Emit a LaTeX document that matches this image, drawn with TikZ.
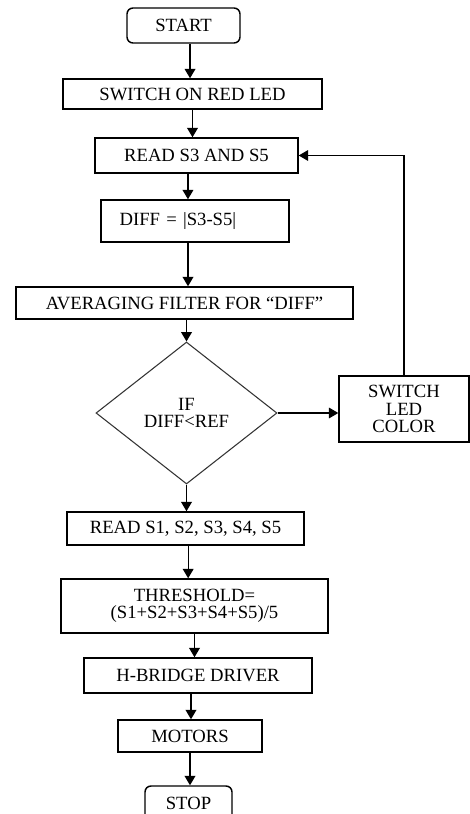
\documentclass[tikz,border=0pt]{standalone}
\usepackage{fontspec}
\setmainfont{Liberation Serif}
\usetikzlibrary{arrows.meta,shapes.geometric}

\tikzset{
  box/.style={draw, line width=1.1pt, minimum height=24pt, inner sep=2pt, align=center},
  term/.style={box, rounded corners=4.5pt},
  decision/.style={diamond, draw=black!80, line width=0.8pt, inner sep=0pt, align=center},
  arr/.style={line width=1pt, -{Triangle[length=7pt,width=8pt]}}
}

\begin{document}
\begin{tikzpicture}[x=0.75pt,y=-0.75pt,font=\fontsize{14}{13}\selectfont]
\useasboundingbox (0,0) rectangle (470,814);

\node[term] (start) at (183.5,25.5) [minimum width=84.75pt, minimum height=26.25pt] {START};
\node[box] (redled) at (192.5,94) [minimum width=194.25pt, minimum height=22.5pt] {SWITCH ON RED LED};
\node[box] (reads35) at (196.5,155.5) [minimum width=152.25pt, minimum height=26.25pt] {READ S3 AND S5};
\node[box, text width=113pt, inner xsep=14pt, align=left] (diff) at (195,221) [minimum height=31.5pt] {DIFF = |S3-S5|};
\node[box] (avg) at (184.5,303) [minimum width=252.75pt, minimum height=24pt] {AVERAGING FILTER FOR ``DIFF''};
\node[decision] (ifdiff) at (186.5,413) [minimum width=135.75pt, minimum height=106.5pt] {IF\\DIFF<REF};
\node[box] (switchled) at (404,409) [minimum width=97.5pt, minimum height=49.5pt] {SWITCH\\LED\\COLOR};
\node[box] (reads1) at (185.5,528.5) [minimum width=177.75pt, minimum height=24.75pt] {READ S1, S2, S3, S4, S5};
\node[box] (thresh) at (194.5,606) [minimum width=200.25pt, minimum height=40.5pt] {THRESHOLD=\\(S1+S2+S3+S4+S5)/5};
\node[box] (hbridge) at (198,675.5) [minimum width=171pt, minimum height=26.25pt] {H-BRIDGE DRIVER};
\node[box] (motors) at (190,736) [minimum width=108pt, minimum height=24pt] {MOTORS};
\node[term] (stop) at (188.5,803) [minimum width=65.25pt, minimum height=25.5pt] {STOP};

\draw[arr] ([xshift=4.9pt]start.south) -- ([xshift=4.9pt]start.south |- redled.north);
\draw[arr] (redled.south) -- (redled.south |- reads35.north);
\draw[arr] ([xshift=-6.4pt]reads35.south) -- ([xshift=-6.4pt]reads35.south |- diff.north);
\draw[arr] ([xshift=-5.25pt]diff.south) -- ([xshift=-5.25pt]diff.south |- avg.north);
\draw[arr] (avg.south -| ifdiff.north) -- (ifdiff.north);
\draw[arr] (ifdiff.south) -- (ifdiff.south |- reads1.north);
\draw[arr] ([xshift=2pt]reads1.south) -- ([xshift=2pt]reads1.south |- thresh.north);
\draw[arr] (thresh.south) -- (thresh.south |- hbridge.north);
\draw[arr] ([xshift=-5.25pt]hbridge.south) -- ([xshift=-5.25pt]hbridge.south |- motors.north);
\draw[arr] (motors.south) -- (motors.south |- stop.north);

\draw[arr, line width=0.8pt] (ifdiff.east) -- (switchled.west |- ifdiff.east);
\draw[arr, line width=0.8pt] (switchled.north) |- (reads35.east);

\end{tikzpicture}
\end{document}
